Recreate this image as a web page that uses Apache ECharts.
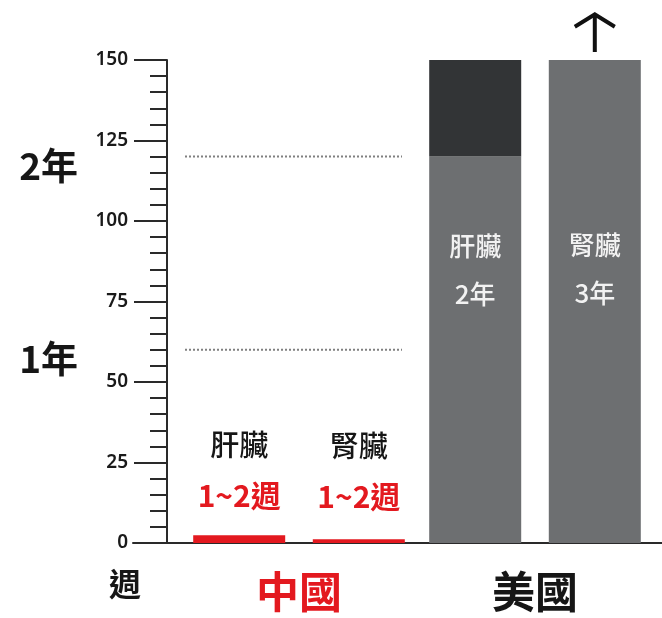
<!DOCTYPE html>
<html><head><meta charset="utf-8">
<script src="https://cdn.jsdelivr.net/npm/echarts@6/dist/echarts.min.js"></script>
<style>html,body{margin:0;padding:0;background:#fff}#c{width:662px;height:618px}</style>
</head><body><div id="c"></div>
<script>
// ---- data ----
const countries = ['中國', '美國'];
const liverWeeks = [2.4, 120];      // base part of liver bars
const liverExtra = ['-', 30];       // dark top segment (US liver)
const kidneyWeeks = [1.2, 150];
const organNames = ['肝臟', '腎臟'];
const chinaWait = ['1~2週', '1~2週'];
const usWait = ['2年', '3年'];
const yMin = 0, yMax = 150, yStep = 25;
const refLines = [{ value: 120, label: '2年' }, { value: 60, label: '1年' }];
const unitLabel = '週';

// ---- styles ----
const RED = '#e3191f', GRAY = '#6d6f71', DARK = '#323436', INK = '#161616';
const CJK = '"Noto Sans CJK TC","Noto Sans CJK SC",sans-serif';

function chinaLabel(i, dist) {
  return {
    show: true, position: 'top', distance: dist,
    formatter: '{a|' + organNames[i] + '}\n{b|' + chinaWait[i] + '}',
    rich: {
      a: { fontSize: 29, color: INK, fontFamily: CJK, fontWeight: 500, lineHeight: 50 },
      b: { fontSize: 30, color: RED, fontFamily: CJK, fontWeight: 'bold', lineHeight: 50 }
    }
  };
}
function usLabel(i, posY) {
  return {
    show: true, position: ['50%', posY], align: 'center', verticalAlign: 'middle',
    formatter: organNames[i] + '\n' + usWait[i],
    color: '#f2f2f2', fontSize: 26, lineHeight: 48, fontFamily: CJK, fontWeight: 500
  };
}

const chart = echarts.init(document.getElementById('c'), null, { renderer: 'canvas' });
const arrowPath = 'path://M21,0 L42,13 L40,16.5 L23,6 L23,40 L19,40 L19,6 L2,16.5 L0,13 Z';

const option = {
  animation: false,
  backgroundColor: '#fff',
  grid: [
    { left: 181, right: 9, top: 60, bottom: 75 },
    { left: 133, right: 0, top: 60, bottom: 75 }
  ],
  xAxis: [
    {
      type: 'category', data: countries, gridIndex: 0,
      axisLine: { show: false }, axisTick: { show: false },
      axisLabel: {
        margin: 27, fontSize: 43, fontWeight: 'bold', fontFamily: CJK,
        color: (v, i) => (i === 0 ? RED : INK)
      }
    },
    {
      type: 'value', gridIndex: 1, min: 0, max: 1, position: 'bottom',
      axisLine: { show: true, onZero: false, lineStyle: { color: '#2a2a2a', width: 2 } },
      axisTick: { show: false }, axisLabel: { show: false }, splitLine: { show: false }
    }
  ],
  yAxis: [
    {
      type: 'value', gridIndex: 0, min: yMin, max: yMax, interval: yStep, offset: 14,
      axisLine: { show: true, lineStyle: { color: '#2a2a2a', width: 2 } },
      axisTick: { show: true, length: 33, lineStyle: { color: '#2a2a2a', width: 2 } },
      minorTick: { show: true, splitNumber: 5, length: 17, lineStyle: { color: '#2a2a2a', width: 2 } },
      axisLabel: { margin: 39, fontSize: 19, color: '#1a1a1a', fontFamily: '"Noto Sans",sans-serif', fontWeight: 600 },
      splitLine: { show: false }
    },
    { type: 'value', gridIndex: 1, min: 0, max: 1, show: false }
  ],
  series: [
    {
      name: 'liver', type: 'bar', stack: 'liver', barWidth: 92, barGap: '30%',
      data: liverWeeks.map((v, i) => ({
        value: v,
        itemStyle: { color: i === 0 ? RED : GRAY },
        label: i === 0 ? chinaLabel(0, 15) : usLabel(0, '29.4%')
      }))
    },
    {
      name: 'liverExtra', type: 'bar', stack: 'liver', barWidth: 92, barGap: '30%',
      itemStyle: { color: DARK },
      data: liverExtra
    },
    {
      name: 'kidney', type: 'bar', stack: 'kidney', barWidth: 92, barGap: '30%',
      data: kidneyWeeks.map((v, i) => ({
        value: v,
        itemStyle: { color: i === 0 ? RED : GRAY },
        label: i === 0 ? chinaLabel(1, 18) : usLabel(1, '43.3%')
      })),
      markPoint: {
        silent: true,
        symbol: arrowPath, symbolSize: [42, 40], symbolOffset: [0, -28],
        itemStyle: { color: '#111' },
        label: { show: false },
        data: [{ coord: [countries[1], kidneyWeeks[1]] }]
      }
    }
  ]
};
chart.setOption(option);

// reference dotted lines + side labels positioned through the scales
const cx = chart.convertToPixel({ xAxisIndex: 0 }, countries[0]);
const graphics = [];
refLines.forEach(r => {
  const y = chart.convertToPixel({ yAxisIndex: 0 }, r.value);
  graphics.push({
    type: 'line', silent: true,
    shape: { x1: cx - 114, y1: y, x2: cx + 103, y2: y },
    style: { stroke: '#808080', lineWidth: 2, lineDash: [2, 2] }
  });
  graphics.push({
    type: 'text', silent: true, x: 78, y: y + 9,
    style: { text: r.label, fontSize: 37, fontWeight: 'bold', fontFamily: CJK, fill: INK, align: 'right', verticalAlign: 'middle' }
  });
});
const y0 = chart.convertToPixel({ yAxisIndex: 0 }, yMin);
graphics.push({
  type: 'text', silent: true, x: 125, y: y0 + 41,
  style: { text: unitLabel, fontSize: 32, fontWeight: 'bold', fontFamily: CJK, fill: INK, align: 'center', verticalAlign: 'middle' }
});
chart.setOption({ graphic: graphics });
</script>
</body></html>
